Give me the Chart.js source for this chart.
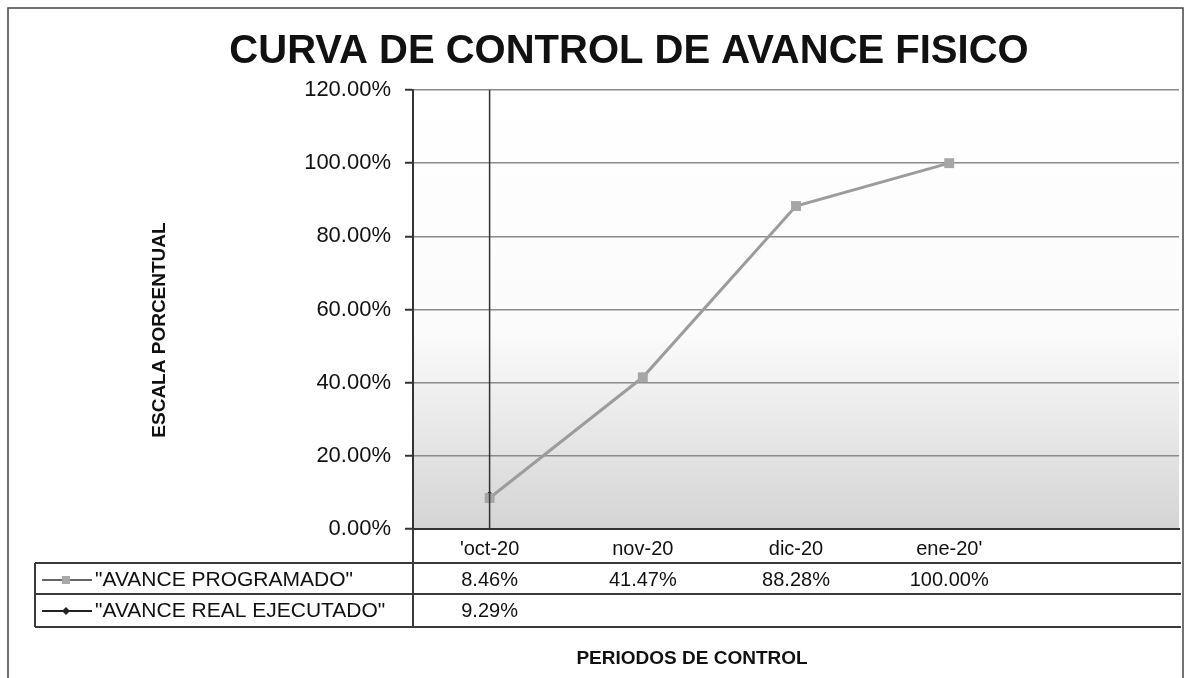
<!DOCTYPE html>
<html>
<head>
<meta charset="utf-8">
<script src="https://cdn.jsdelivr.net/npm/chart.js@4/dist/chart.umd.min.js"></script>
<style>
  body { margin: 0; background: #fff; }
  #wrap { width: 1186px; height: 678px; position: relative; }
</style>
</head>
<body>
<div id="wrap"><canvas id="curva"></canvas></div>
<script>
// ── DATA ──
const periodos = ["'oct-20", 'nov-20', 'dic-20', "ene-20'", ''];
const avanceProgramado = [0.0846, 0.4147, 0.8828, 1.0, null];
const avanceReal = [0.0929, null, null, null, null];
const yTicks = [0, 0.2, 0.4, 0.6, 0.8, 1.0, 1.2];

const FONT = '"Liberation Sans", Arial, sans-serif';
const pct = v => (v * 100).toFixed(2) + '%';

// ── FONDO DEGRADADO + LINEA DE CORTE ──
const plotBackground = {
  id: 'plotBackground',
  beforeDraw(chart) {
    const { ctx, chartArea: a } = chart;
    const g = ctx.createLinearGradient(0, a.top, 0, a.bottom);
    g.addColorStop(0, '#ffffff');
    g.addColorStop(0.55, '#fbfbfb');
    g.addColorStop(1, '#d4d4d4');
    ctx.save();
    ctx.fillStyle = g;
    ctx.fillRect(a.left, a.top, a.right - a.left, a.bottom - a.top);
    ctx.restore();
  },
  afterDatasetsDraw(chart) {
    // vertical cut line at the current period
    const { ctx, chartArea: a } = chart;
    const x = chart.scales.x.getPixelForValue(0);
    ctx.save();
    ctx.strokeStyle = '#333';
    ctx.lineWidth = 1.5;
    ctx.beginPath();
    ctx.moveTo(x, a.top);
    ctx.lineTo(x, a.bottom);
    ctx.stroke();
    ctx.restore();
  }
};

// ── TABLA DE DATOS, TITULOS Y MARCO ──
const dataTable = {
  id: 'dataTable',
  afterDraw(chart) {
    const { ctx, chartArea: a, scales: { x } } = chart;
    const rows = [
      { label: '"AVANCE PROGRAMADO"', data: avanceProgramado, y: 580, marker: 'rect' },
      { label: '"AVANCE REAL EJECUTADO"', data: avanceReal, y: 611, marker: 'diamond' }
    ];
    ctx.save();

    // frame
    ctx.strokeStyle = '#444';
    ctx.lineWidth = 1.5;
    ctx.beginPath();
    ctx.moveTo(8, 678); ctx.lineTo(8, 8); ctx.lineTo(1183, 8); ctx.lineTo(1183, 678);
    ctx.stroke();

    // table lines
    ctx.lineWidth = 2;
    ctx.strokeStyle = '#3a3a3a';
    [563, 594, 627].forEach(y => {
      ctx.beginPath(); ctx.moveTo(35, y); ctx.lineTo(a.right + 2, y); ctx.stroke();
    });
    ctx.beginPath(); ctx.moveTo(35, 563); ctx.lineTo(35, 627); ctx.stroke();
    ctx.beginPath(); ctx.moveTo(a.left, a.bottom); ctx.lineTo(a.left, 627); ctx.stroke();

    ctx.fillStyle = '#111';
    ctx.textBaseline = 'middle';
    ctx.textAlign = 'center';
    ctx.font = '20px ' + FONT;
    periodos.forEach((p, i) => ctx.fillText(p, x.getPixelForValue(i), 549));

    rows.forEach(r => {
      ctx.textAlign = 'center';
      ctx.font = '20px ' + FONT;
      r.data.forEach((v, i) => {
        if (v !== null) ctx.fillText(pct(v), x.getPixelForValue(i), r.y);
      });
      // legend key
      ctx.strokeStyle = r.marker === 'rect' ? '#666' : '#222';
      ctx.lineWidth = 1.8;
      ctx.beginPath(); ctx.moveTo(42, r.y); ctx.lineTo(92, r.y); ctx.stroke();
      if (r.marker === 'rect') {
        ctx.fillStyle = '#a8a8a8';
        ctx.fillRect(62, r.y - 4, 8, 8);
      } else {
        ctx.fillStyle = '#222';
        ctx.beginPath();
        ctx.moveTo(66, r.y - 4); ctx.lineTo(70, r.y); ctx.lineTo(66, r.y + 4); ctx.lineTo(62, r.y);
        ctx.closePath(); ctx.fill();
      }
      ctx.fillStyle = '#111';
      ctx.textAlign = 'left';
      ctx.font = '21px ' + FONT;
      ctx.fillText(r.label, 95, r.y);
    });

    // titles
    ctx.textAlign = 'center';
    ctx.font = 'bold 40px ' + FONT;
    ctx.fillText('CURVA DE CONTROL DE AVANCE FISICO', 629, 52);
    ctx.font = 'bold 19px ' + FONT;
    ctx.fillText('PERIODOS DE CONTROL', 692, 659);
    ctx.translate(160, 330);
    ctx.rotate(-Math.PI / 2);
    ctx.fillText('ESCALA PORCENTUAL', 0, 0);
    ctx.restore();
  }
};

// ── CHART ──
new Chart(document.getElementById('curva'), {
  type: 'line',
  data: {
    labels: periodos,
    datasets: [
      {
        label: 'AVANCE REAL EJECUTADO',
        data: avanceReal,
        borderColor: '#222',
        backgroundColor: '#222',
        borderWidth: 1.5,
        pointStyle: 'rectRot',
        pointRadius: 3,
        order: 2
      },
      {
        label: 'AVANCE PROGRAMADO',
        data: avanceProgramado,
        borderColor: '#9c9c9c',
        backgroundColor: '#a6a6a6',
        borderWidth: 3,
        pointStyle: 'rect',
        pointRadius: 7,
        pointBorderWidth: 0,
        tension: 0,
        order: 1
      }
    ]
  },
  options: {
    responsive: true, maintainAspectRatio: false,
    animation: false,
    layout: { padding: { left: 8, right: 5, top: 90, bottom: 0 } },
    plugins: {
      legend: { display: false },
      title: { display: false },
      tooltip: { enabled: false }
    },
    scales: {
      x: {
        offset: true,
        grid: { display: false },
        border: { display: true, color: '#333', width: 2 },
        ticks: { display: false },
        afterFit: s => { s.height = 149; }
      },
      y: {
        min: 0, max: 1.2,
        afterBuildTicks: s => { s.ticks = yTicks.map(v => ({ value: v })); },
        grid: { color: '#8a8a8a', lineWidth: 1.5, tickLength: 8, tickColor: '#333', tickWidth: 2 },
        border: { display: true, color: '#333', width: 2 },
        ticks: { callback: v => pct(v), color: '#111', padding: 14, font: { family: FONT, size: 22 } },
        afterFit: s => { s.width = 405; }
      }
    }
  },
  plugins: [plotBackground, dataTable]
});
</script>
</body>
</html>
